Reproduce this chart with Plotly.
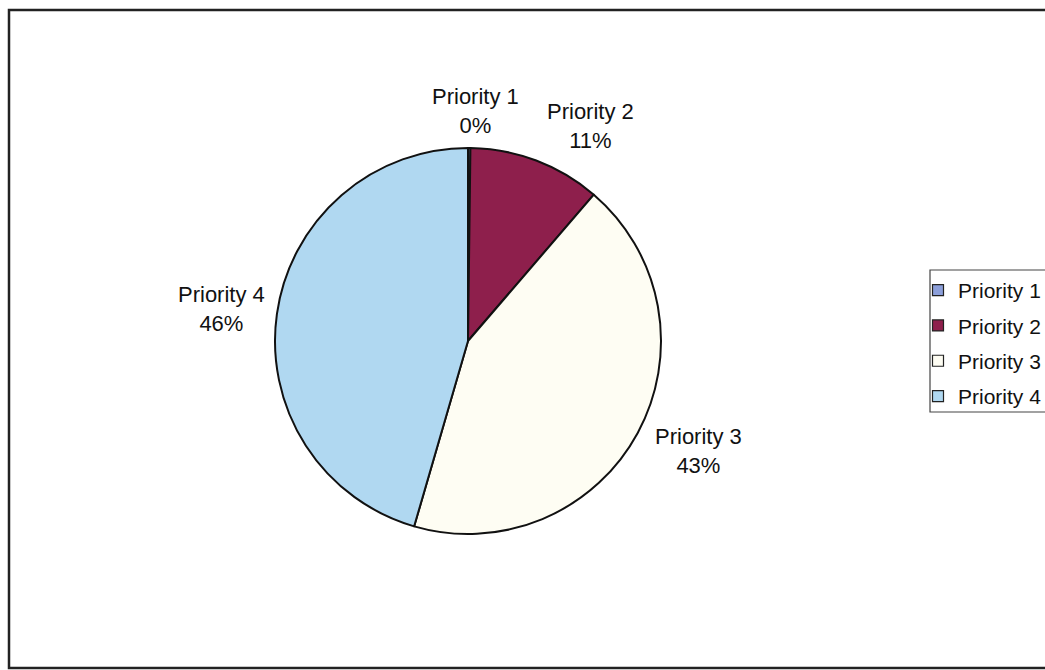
import math
import plotly.graph_objects as go

labels = ["Priority 1", "Priority 2", "Priority 3", "Priority 4"]
values = [0.2, 11.1, 43.2, 45.5]
colors = ["#8C9FDA", "#8E1F4C", "#FEFDF3", "#B0D8F1"]

W, H = 1045, 670
cx, cy, r = 468, 341, 193
FONT = "Liberation Sans, Arial, sans-serif"
FS = 22
lab_cx, lab_cy = cx + 6, cy     # centre of the label ellipse
lab_rx, lab_ry = 255, 230       # label-centre ellipse radii
box_w = 87
min_gap = 28

fig = go.Figure()
fig.add_trace(go.Pie(
    labels=labels,
    values=values,
    sort=False,
    direction="clockwise",
    rotation=0,
    marker=dict(colors=colors, line=dict(color="#111111", width=2)),
    textinfo="none",
    showlegend=False,
    domain=dict(x=[(cx - r) / W, (cx + r) / W], y=[(H - cy - r) / H, (H - cy + r) / H]),
    hoverinfo="label+percent",
))

# legend entries (one per category, with spacing between them)
for i, (lab, col) in enumerate(zip(labels, colors)):
    fig.add_trace(go.Scatter(
        x=[None], y=[None], mode="markers", name=lab, legendgroup=f"g{i}",
        marker=dict(symbol="square", size=11, color=col, line=dict(color="#222222", width=1.2)),
        showlegend=True, hoverinfo="skip",
    ))

# data labels placed outside each slice, at its mid angle
total = sum(values)
boxes = []
cum = 0.0
for lab, v in zip(labels, values):
    mid = (cum + v / 2) / total * 2 * math.pi
    cum += v
    bx = lab_cx + lab_rx * math.sin(mid)
    by = lab_cy - lab_ry * math.cos(mid)
    if boxes:  # simple collision avoidance with the previous label
        px, py = boxes[-1][1], boxes[-1][2]
        if abs(by - py) < 58 and bx >= px and bx - px < box_w + min_gap:
            bx = px + box_w + min_gap
    boxes.append((f"{lab}<br>{round(v / total * 100):.0f}%", bx, by))

annotations = [dict(
    x=bx / W, y=1 - by / H, xref="paper", yref="paper", text=t,
    showarrow=False, xanchor="center", yanchor="middle",
    font=dict(family=FONT, size=FS, color="#111111"),
) for t, bx, by in boxes]

fig.update_layout(
    width=W, height=H,
    margin=dict(l=0, r=0, t=0, b=0, autoexpand=False),
    paper_bgcolor="white",
    plot_bgcolor="white",
    xaxis=dict(visible=False),
    yaxis=dict(visible=False),
    showlegend=True,
    legend=dict(
        x=918 / W, y=1 - 270 / H, xanchor="left", yanchor="top",
        bgcolor="rgba(0,0,0,0)", borderwidth=0,
        font=dict(family=FONT, size=21, color="#111111"),
        traceorder="grouped", tracegroupgap=5, itemwidth=30,
    ),
    annotations=annotations,
    shapes=[
        dict(type="rect", xref="paper", yref="paper",
             x0=9 / W, x1=1.02, y0=2 / H, y1=1 - 10 / H,
             line=dict(color="#222222", width=2.5)),
        dict(type="rect", xref="paper", yref="paper",
             x0=930 / W, x1=1.02, y0=1 - 412 / H, y1=1 - 270 / H,
             line=dict(color="#444444", width=1.2)),
    ],
)

fig.write_html("out.html")
